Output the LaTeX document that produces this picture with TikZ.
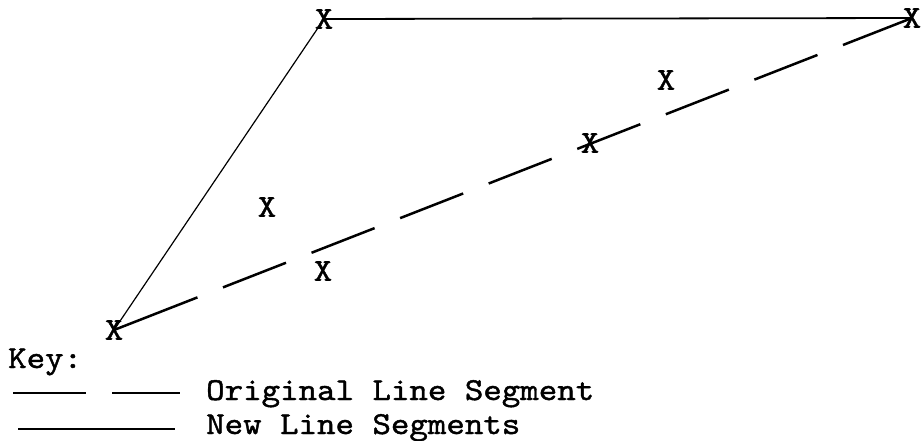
\documentclass[tikz,border=0pt]{standalone}
\usepackage{fontspec}
\setmonofont[FakeBold=1.3,FakeStretch=1.1]{lmmono10-regular.otf}

\begin{document}
\begin{tikzpicture}[
  x=1pt, y=-1pt,
  font=\fontsize{32}{36}\selectfont\ttfamily,
  xmark/.style={inner sep=0pt},
  keytext/.style={anchor=base west, inner sep=0pt},
  newseg/.style={line width=1.8pt},
  origseg/.style={line width=2.5pt, dash pattern=on 89.6pt off 27.4pt on 67.7pt off 27.4pt on 67.7pt off 27.4pt on 67.7pt off 27.4pt on 67.7pt off 27.4pt on 67.7pt off 27.4pt on 67.7pt off 27.4pt on 67.7pt off 27.4pt on 80pt off 10pt}
]
  \useasboundingbox (0,0) rectangle (921,440);

  % points
  \node[xmark] (a) at (114,330) {X};
  \node[xmark] (b) at (324,19) {X};
  \node[xmark] (c) at (912,18) {X};
  \node[xmark] (d) at (590,143) {X};
  \node[xmark] (e) at (666,80) {X};
  \node[xmark] (f) at (267,207) {X};
  \node[xmark] (g) at (323,271) {X};

  \draw[newseg, line width=1.2pt] (a.center) -- (b.center);
  \draw[newseg] (b.center) -- (c.center);
  \draw[origseg] (a.center) -- (c.center);

  % key
  \node[keytext] (key) at (8,368) {Key:};
  \node[keytext] (origtxt) at (206,400) {Original Line Segment};
  \node[keytext] (newtxt) at (206,434) {New Line Segments};
  \coordinate (o1) at (13,393);
  \coordinate (o2) at (180,393);
  \coordinate (n1) at (18,429);
  \coordinate (n2) at (175,429);
  \draw[line width=2.4pt, dash pattern=on 73pt off 26pt] (o1) -- (o2);
  \draw[line width=2.4pt] (n1) -- (n2);
\end{tikzpicture}
\end{document}
